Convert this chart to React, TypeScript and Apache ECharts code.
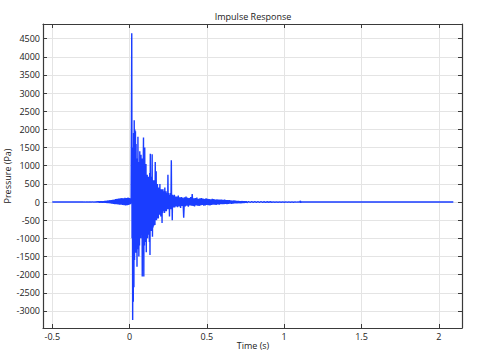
import React, { useEffect, useRef } from "react";
import * as echarts from "echarts";

// Time axis / pressure axis ranges
const xMin = -0.56;
const xMax = 2.15;
const yMin = -3470;
const yMax = 4905;

// Leading silence
const leadPoints: [number, number][] = [
  [-0.5, 0],
  [-0.305, 0],
];

// Precursor noise, t = -0.30 .. 0.010, step 0.005
const precursorStart = -0.3;
const precursorStep = 0.005;
const precursorValues = [
  2, -2, 3, -3, 4, -3, 5, -4, 5, -5,
  6, -5, 8, -6, 9, -7, 10, -8, 12, -9,
  14, -11, 16, -13, 18, -14, 22, -17, 26, -20,
  32, -24, 40, -30, 48, -36, 55, -42, 60, -48,
  70, -55, 80, -60, 85, -65, 95, -70, 100, -75,
  110, -80, 105, -85, 115, -90, 110, -85, 120, -80, 110, -60, 40,
];

// Main impulse, t = 0.012 .. 0.300, step 0.002
const mainStart = 0.012;
const mainStep = 0.002;
const mainValues = [
  50, 4650, -1000, 1500, -3250, 800, -2750, 1900, -2350, 2250,
  -1600, 2000, -1200, 1950, -1400, 1600, -1100, 1200, -1780, 1000,
  -1300, 1800, -900, 1100, -1500, 900, -1200, 1400, -1000, 1250,
  -1000, 1300, -900, 900, 1200, -2050, 850, -1300, 900, 1780,
  -2050, 1000, -1200, 1500, -900, 800, -1100, 1050, -1380, 700,
  -900, 750, -1000, 700, -800, 650, -900, 700, -1100, 800,
  -1460, 1330, -700, 600, -800, 700, -600, 1320, -955, 600,
  -700, 550, -650, 600, -500, 500, -634, 1100, -500, 450,
  850, -500, 450, -450, 500, -400, 400, -450, 350, -350,
  400, -350, 500, -300, 350, -400, 300, -300, 350, -580,
  300, -300, 350, -250, 300, -250, 250, -300, 400, -250,
  250, -200, 300, -250, 200, -200, 250, -200, 750, -200,
  250, -200, 200, -400, 200, -150, 250, -200, 200, 1150,
  -200, 200, -500, 200, -150, 180, -150, 150, -150, 200,
  -150, 150, -120, 150, -120,
];

// Decaying tail, t = 0.305 .. 0.760, step 0.005
const tailStart = 0.305;
const tailStep = 0.005;
const tailValues = [
  150, -140, 180, -120, 130, -160, 140, -110, 120, -430,
  130, -120, 150, -100, 120, -130, 110, -90, 140, -100,
  220, -110, 100, -120, 110, -90, 120, -100, 90, -110,
  100, -90, 110, -80, 95, -100, 85, -90, 100, -80,
  90, -85, 80, -90, 75, -80, 85, -70, 80, -75,
  70, -80, 75, -65, 70, -70, 65, -60, 70, -60,
  60, -55, 65, -50, 55, -60, 50, -50, 55, -45,
  45, -50, 40, -40, 45, -35, 40, -35, 30, -35,
  30, -30, 25, -30, 25, -25, 20, -25, 20, -20, 20, -15,
];

// Late residue, t = 0.77 .. 1.10, step 0.01
const lateStart = 0.77;
const lateStep = 0.01;
const lateValues = [
  15, -12, 12, -10, 12, -10, 10, -8, 10, -8,
  8, -8, 8, -6, 8, -6, 6, -6, 6, -5,
  6, -5, 5, -5, 5, -4, 4, -4, 4, -4,
  4, -3, 3, -3,
];

// Small blip near 1.1 s and silence to the end
const endPoints: [number, number][] = [
  [1.103, 0],
  [1.105, 35],
  [1.107, -25],
  [1.109, 10],
  [1.112, 0],
  [2.094, 0],
];

function segment(start: number, step: number, vals: number[]): [number, number][] {
  return vals.map((v, i) => [Number((start + i * step).toFixed(4)), v]);
}

const seriesData: [number, number][] = [
  ...leadPoints,
  ...segment(precursorStart, precursorStep, precursorValues),
  ...segment(mainStart, mainStep, mainValues),
  ...segment(tailStart, tailStep, tailValues),
  ...segment(lateStart, lateStep, lateValues),
  ...endPoints,
];

const FONT = "'Open Sans', 'DejaVu Sans', sans-serif";
const AXIS_COLOR = "#3a3a3a";
const GRID_COLOR = "#e4e4e4";
const TEXT_COLOR = "#222";

export default function App() {
  const ref = useRef<HTMLDivElement>(null);

  useEffect(() => {
    if (!ref.current) return;
    const chart = echarts.init(ref.current, undefined, { renderer: "svg" });

    const baseX = {
      type: "value" as const,
      min: xMin,
      max: xMax,
      splitNumber: 5,
      axisLine: { show: true, onZero: false, lineStyle: { color: AXIS_COLOR, width: 1.2 } },
      axisTick: { show: true, inside: true, length: 4, lineStyle: { color: AXIS_COLOR } },
    };
    const baseY = {
      type: "value" as const,
      min: yMin,
      max: yMax,
      splitNumber: 16,
      axisLine: { show: true, onZero: false, lineStyle: { color: AXIS_COLOR, width: 1.2 } },
      axisTick: { show: true, inside: true, length: 4, lineStyle: { color: AXIS_COLOR } },
    };

    chart.setOption({
      animation: false,
      backgroundColor: "#ffffff",
      grid: { left: 43, top: 24, right: 20, bottom: 23, containLabel: false },
      xAxis: [
        {
          ...baseX,
          position: "bottom",
          axisLabel: {
            show: true,
            color: TEXT_COLOR,
            fontFamily: FONT,
            fontSize: 9,
            margin: 4,
            showMinLabel: false,
            showMaxLabel: false,
            formatter: (v: number) => String(v),
          },
          splitLine: { show: true, lineStyle: { color: GRID_COLOR, width: 1 } },
        },
        {
          ...baseX,
          position: "top",
          axisLabel: { show: false },
          splitLine: { show: false },
        },
      ],
      yAxis: [
        {
          ...baseY,
          position: "left",
          axisLabel: {
            show: true,
            color: TEXT_COLOR,
            fontFamily: FONT,
            fontSize: 9,
            margin: 3,
            showMinLabel: false,
            showMaxLabel: false,
            formatter: (v: number) => String(v),
          },
          splitLine: { show: true, lineStyle: { color: GRID_COLOR, width: 1 } },
        },
        {
          ...baseY,
          position: "right",
          axisLabel: { show: false },
          splitLine: { show: false },
        },
      ],
      graphic: [
        {
          type: "text",
          x: 253,
          y: 16,
          style: {
            text: "Impulse Response",
            fontFamily: FONT,
            fontSize: 9,
            fill: TEXT_COLOR,
            textAlign: "center",
            textVerticalAlign: "middle",
          },
        },
        {
          type: "text",
          x: 253,
          y: 345,
          style: {
            text: "Time (s)",
            fontFamily: FONT,
            fontSize: 9,
            fill: TEXT_COLOR,
            textAlign: "center",
            textVerticalAlign: "middle",
          },
        },
        {
          type: "text",
          x: 7,
          y: 176,
          rotation: Math.PI / 2,
          style: {
            text: "Pressure (Pa)",
            fontFamily: FONT,
            fontSize: 9,
            fill: TEXT_COLOR,
            textAlign: "center",
            textVerticalAlign: "middle",
          },
        },
      ],
      series: [
        {
          type: "line",
          xAxisIndex: 0,
          yAxisIndex: 0,
          data: seriesData,
          showSymbol: false,
          symbol: "none",
          lineStyle: { color: "#1a3dff", width: 1.4 },
          clip: true,
          z: 5,
        },
      ],
    });

    return () => {
      chart.dispose();
    };
  }, []);

  return (
    <div
      ref={ref}
      style={{ position: "fixed", left: 0, top: 0, width: 482, height: 351 }}
    />
  );
}
